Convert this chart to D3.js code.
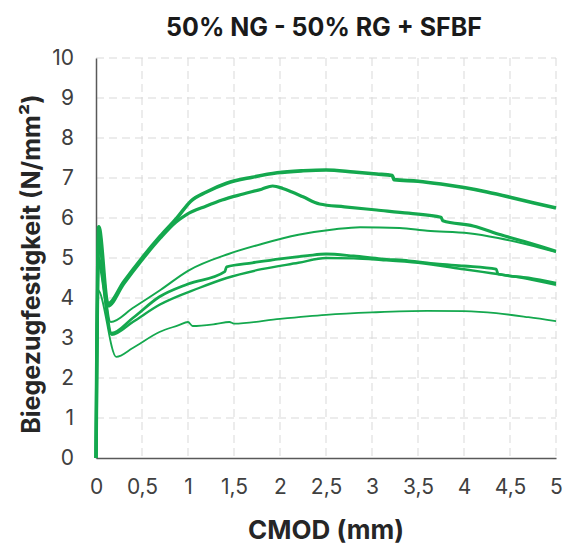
<!DOCTYPE html>
<html>
<head>
<meta charset="utf-8">
<script src="https://cdn.jsdelivr.net/npm/d3@7"></script>
<style>
  body { margin: 0; background: #fff; }
  text { font-family: Inter, "Open Sans", sans-serif; }
</style>
</head>
<body>
<div id="chart"></div>
<script>
// curve data (CMOD in mm, strength in N/mm²)
const xA = [0, 0.03, 0.13, 0.3, 0.5, 0.7, 0.88, 1.03, 1.2, 1.42, 1.7, 1.97, 2.25, 2.5, 2.8, 3.05, 3.22, 3.24, 3.5, 3.75, 4.0, 4.25, 4.5, 4.75, 5.0];
const yA = [0, 5.78, 3.85, 4.4, 5.0, 5.55, 6.0, 6.42, 6.65, 6.87, 7.02, 7.13, 7.18, 7.2, 7.15, 7.1, 7.06, 6.96, 6.92, 6.85, 6.76, 6.65, 6.52, 6.38, 6.25];

const xB = [0, 0.03, 0.13, 0.3, 0.5, 0.7, 0.87, 0.98, 1.2, 1.37, 1.6, 1.8, 1.92, 2.03, 2.13, 2.25, 2.43, 2.7, 3.05, 3.4, 3.75, 3.77, 4.1, 4.4, 4.72, 5.0];
const yB = [0, 5.5, 3.8, 4.35, 4.95, 5.5, 5.9, 6.08, 6.3, 6.45, 6.6, 6.72, 6.8, 6.74, 6.65, 6.53, 6.35, 6.28, 6.2, 6.12, 6.02, 5.93, 5.8, 5.58, 5.37, 5.17];

const xC = [0, 0.03, 0.16, 0.4, 0.7, 1.0, 1.44, 1.8, 2.2, 2.6, 2.87, 3.3, 3.6, 4.05, 4.37, 4.7, 5.0];
const yC = [0, 5.2, 3.4, 3.75, 4.2, 4.68, 5.1, 5.35, 5.58, 5.72, 5.77, 5.75, 5.68, 5.62, 5.5, 5.33, 5.15];

const xD = [0, 0.025, 0.17, 0.4, 0.69, 1.0, 1.4, 1.42, 1.7, 2.0, 2.3, 2.5, 2.8, 3.1, 3.4, 3.7, 4.0, 4.35, 4.37, 4.7, 5.0];
const yD = [0, 5.0, 3.12, 3.5, 4.03, 4.35, 4.66, 4.78, 4.88, 4.98, 5.06, 5.1, 5.05, 4.98, 4.93, 4.85, 4.8, 4.72, 4.6, 4.5, 4.37];

const xE = [0, 0.025, 0.17, 0.4, 0.69, 1.12, 1.42, 1.8, 2.2, 2.5, 2.8, 3.1, 3.5, 4.0, 4.3, 4.6, 5.0];
const yE = [0, 4.85, 3.08, 3.4, 3.83, 4.25, 4.5, 4.72, 4.88, 5.0, 4.99, 4.95, 4.88, 4.72, 4.62, 4.52, 4.33];

const xF = [0, 0.02, 0.22, 0.4, 0.69, 0.9, 1.0, 1.05, 1.3, 1.45, 1.5, 2.0, 2.5, 3.0, 3.6, 4.0, 4.35, 4.7, 5.0];
const yF = [0, 4.2, 2.53, 2.75, 3.15, 3.32, 3.4, 3.3, 3.35, 3.4, 3.36, 3.48, 3.58, 3.64, 3.68, 3.67, 3.62, 3.52, 3.42];

const xTicks = [0, 0.5, 1, 1.5, 2, 2.5, 3, 3.5, 4, 4.5, 5];
const yTicks = [0, 1, 2, 3, 4, 5, 6, 7, 8, 9, 10];

const width = 566, height = 546;
const margin = {left: 96, right: 10, top: 58, bottom: 88};
const green = "#14a84e";

const svg = d3.select("#chart")
              .append("svg")
              .attr("width", width)
              .attr("height", height);

svg.append("rect").attr("width", width).attr("height", height).attr("fill", "#fff");

const xScale = d3.scaleLinear()
                 .domain([0, 5])
                 .range([margin.left, width - margin.right]);
const yScale = d3.scaleLinear()
                 .domain([0, 10])
                 .range([height - margin.bottom, margin.top]);

// grid
svg.append("g")
   .selectAll("line.hg")
   .data(yTicks.slice(1))
   .join("line")
   .attr("x1", margin.left).attr("x2", width - margin.right)
   .attr("y1", d => yScale(d)).attr("y2", d => yScale(d))
   .attr("stroke", "#d9d9d9").attr("stroke-width", 1)
   .attr("stroke-dasharray", "8,5");
svg.append("g")
   .selectAll("line.vg")
   .data(xTicks.slice(1))
   .join("line")
   .attr("x1", d => xScale(d)).attr("x2", d => xScale(d))
   .attr("y1", margin.top).attr("y2", height - margin.bottom)
   .attr("stroke", "#d9d9d9").attr("stroke-width", 1)
   .attr("stroke-dasharray", "8,5");

// axes
const xAxis = d3.axisBottom(xScale).tickValues(xTicks).tickSize(0).tickPadding(21)
                .tickFormat(d => String(d).replace(".", ","));
svg.append("g")
   .attr("transform", `translate(0,${height - margin.bottom})`)
   .call(xAxis)
   .call(g => g.select(".domain").attr("stroke", "#595959").attr("stroke-width", 1.5))
   .selectAll("text")
   .style("font-size", "21px")
   .attr("fill", "#404040");

const yAxis = d3.axisLeft(yScale).tickValues(yTicks).tickSize(0).tickPadding(22);
svg.append("g")
   .attr("transform", `translate(${margin.left},0)`)
   .call(yAxis)
   .call(g => g.select(".domain").attr("stroke", "#595959").attr("stroke-width", 1.5))
   .selectAll("text")
   .style("font-size", "21px")
   .attr("fill", "#404040");

// curves
const line = d3.line()
               .curve(d3.curveMonotoneX)
               .x(d => xScale(d[0]))
               .y(d => yScale(d[1]));

const curves = [
  {x: xF, y: yF, w: 1.8},
  {x: xE, y: yE, w: 2.4},
  {x: xD, y: yD, w: 2.8},
  {x: xC, y: yC, w: 2},
  {x: xB, y: yB, w: 3.2},
  {x: xA, y: yA, w: 3.6}
];

curves.forEach(c => {
  svg.append("path")
     .attr("d", line(c.x.map((v, i) => [v, c.y[i]])))
     .attr("fill", "none")
     .attr("stroke", green)
     .attr("stroke-width", c.w)
     .attr("stroke-linejoin", "round");
});

// titles
svg.append("text")
   .attr("x", (margin.left + width - margin.right) / 2 - 2)
   .attr("y", 36)
   .attr("text-anchor", "middle")
   .style("font-size", "25px")
   .style("font-weight", "700")
   .attr("fill", "#1a1a1a")
   .text("50% NG - 50% RG + SFBF");

svg.append("text")
   .attr("x", (margin.left + width - margin.right) / 2)
   .attr("y", 539)
   .attr("text-anchor", "middle")
   .style("font-size", "26px")
   .style("font-weight", "700")
   .attr("fill", "#262626")
   .text("CMOD (mm)");

svg.append("text")
   .attr("transform", `translate(40,${(margin.top + height - margin.bottom) / 2 + 6}) rotate(-90)`)
   .attr("text-anchor", "middle")
   .style("font-size", "25px")
   .style("font-weight", "700")
   .attr("fill", "#262626")
   .text("Biegezugfestigkeit (N/mm²)");
</script>
</body>
</html>
